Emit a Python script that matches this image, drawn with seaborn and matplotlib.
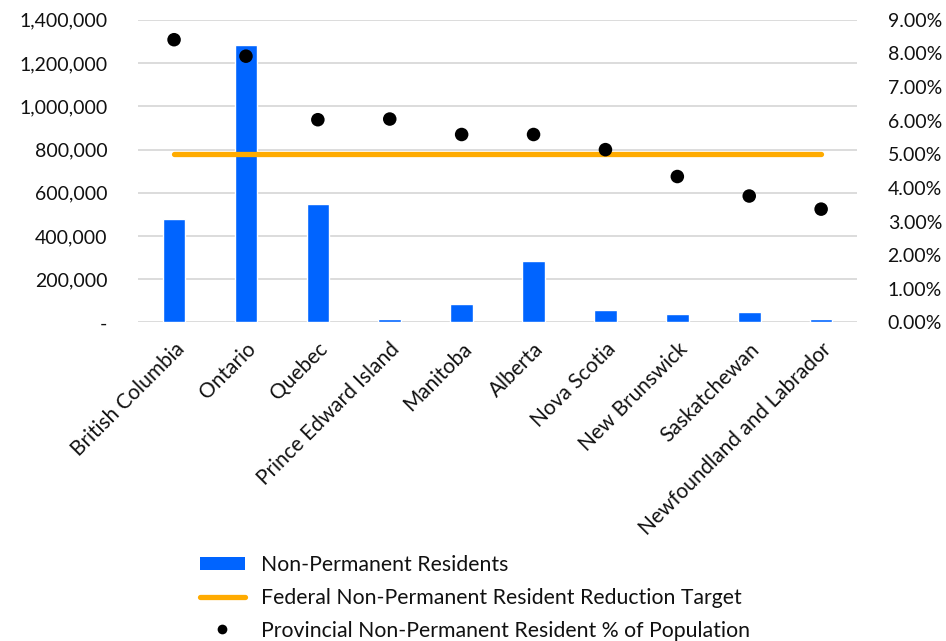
import matplotlib
matplotlib.use("Agg")
import matplotlib.pyplot as plt
import matplotlib.ticker as mticker
from matplotlib.patches import Patch
from matplotlib.lines import Line2D
import seaborn as sns
import numpy as np
import pandas as pd

# =========================
# DATA
# =========================
provinces = ["British Columbia", "Ontario", "Quebec", "Prince Edward Island",
             "Manitoba", "Alberta", "Nova Scotia", "New Brunswick",
             "Saskatchewan", "Newfoundland and Labrador"]
npr_count = [478000, 1283000, 546000, 14000, 85000, 282000, 55500, 39000, 48000, 17000]
npr_share = [0.0841, 0.0792, 0.0603, 0.0605, 0.0559, 0.0559, 0.0514, 0.0434, 0.0376, 0.0337]
target_share = [0.05] * len(provinces)

df = pd.DataFrame({"province": provinces, "count": npr_count,
                   "share": npr_share, "target": target_share})
df["pos"] = np.arange(len(df))

# =========================
# STYLE
# =========================
sns.set_style("white")
plt.rcParams["font.family"] = ["Lato", "DejaVu Sans"]
text_col = "#111111"
blue = "#0064ff"
orange = "#ffab00"

fig = plt.figure(figsize=(9.46, 6.41), dpi=100)
ax = fig.add_axes([0.146, 0.497, 0.76, 0.472])

# bars (left axis)
sns.barplot(data=df, x="pos", y="count", color=blue, width=0.315,
            saturation=1, ax=ax, native_scale=True, zorder=2)
ax.set_ylim(0, 1400000)
ax.set_xlim(-0.5, len(df) - 0.5)
ax.yaxis.set_major_locator(mticker.MultipleLocator(200000))
ax.yaxis.set_major_formatter(mticker.FuncFormatter(
    lambda v, p: "-" if v == 0 else f"{v:,.0f}"))
ax.grid(axis="y", color="#d9d9d9", linewidth=1.3, zorder=0)
ax.set_axisbelow(True)
ax.set_xticks(df["pos"])
ax.set_xticklabels(df["province"], rotation=45, ha="right",
                   rotation_mode="anchor", fontsize=15, color=text_col)
ax.tick_params(axis="x", length=0, pad=12)
ax.tick_params(axis="y", length=0, labelsize=14, labelcolor=text_col, pad=22)
ax.set_xlabel("")
ax.set_ylabel("")
for s in ax.spines.values():
    s.set_visible(False)

# line + dots (right axis)
ax2 = ax.twinx()
sns.lineplot(data=df, x="pos", y="target", color=orange, linewidth=3.8,
             solid_capstyle="round", ax=ax2, zorder=3)
sns.scatterplot(data=df, x="pos", y="share", color="black", s=95,
                edgecolor="none", ax=ax2, zorder=4)
ax2.set_ylim(0, 0.09)
ax2.yaxis.set_major_locator(mticker.MultipleLocator(0.01))
ax2.yaxis.set_major_formatter(mticker.FuncFormatter(lambda v, p: f"{v*100:.2f}%"))
ax2.tick_params(axis="y", length=0, labelsize=14, labelcolor=text_col, pad=22)
ax2.set_ylabel("")
ax2.grid(False)
for s in ax2.spines.values():
    s.set_visible(False)

# legend
handles = [
    Patch(facecolor=blue, edgecolor="none"),
    Line2D([0], [0], color=orange, linewidth=3.8, solid_capstyle="round"),
    Line2D([0], [0], marker="o", color="none", markerfacecolor="black",
           markeredgecolor="none", markersize=7),
]
labels = ["Non-Permanent Residents",
          "Federal Non-Permanent Resident Reduction Target",
          "Provincial Non-Permanent Resident % of Population"]
fig.legend(handles, labels, loc="upper left", bbox_to_anchor=(0.211, 0.134),
           frameon=False, fontsize=15.3, handlelength=2.15, handleheight=0.6,
           handletextpad=0.75, labelspacing=0.6, labelcolor=text_col,
           borderaxespad=0, borderpad=0, bbox_transform=fig.transFigure)

fig.savefig("out.png", dpi=100)
